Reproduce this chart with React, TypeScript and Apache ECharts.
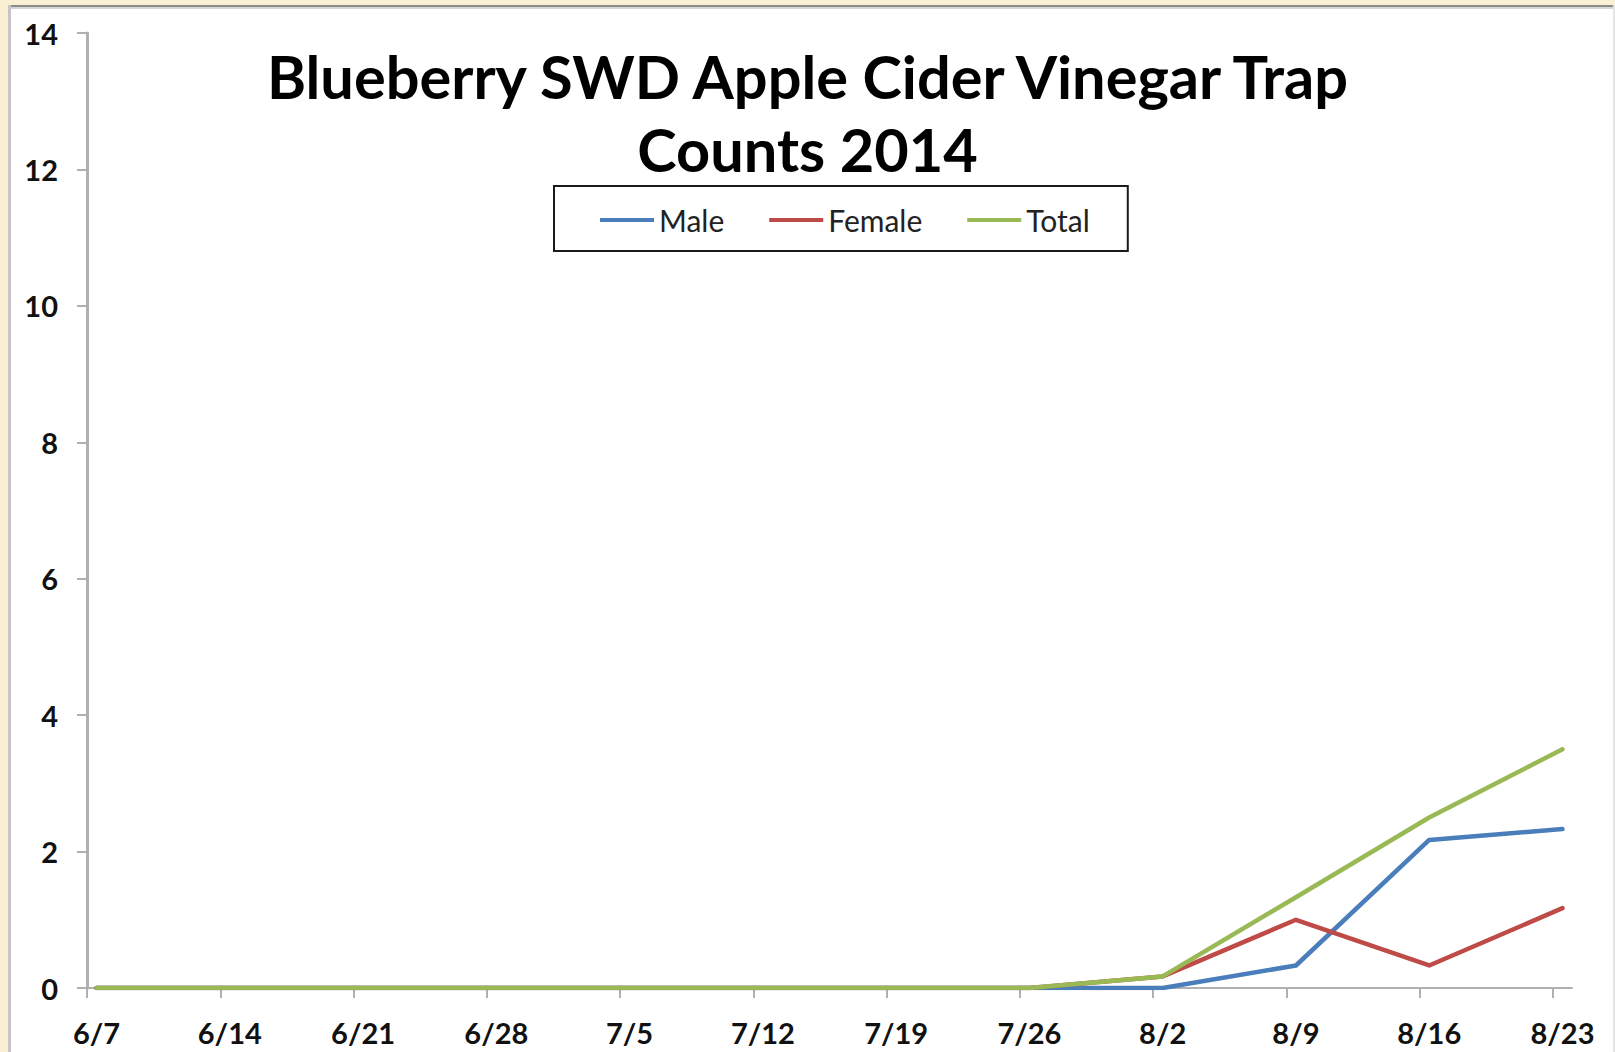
import React, { useEffect, useRef } from "react";
import * as echarts from "echarts";

const dates = ["6/7", "6/14", "6/21", "6/28", "7/5", "7/12", "7/19", "7/26", "8/2", "8/9", "8/16", "8/23"];
const male = [0, 0, 0, 0, 0, 0, 0, 0, 0, 0.33, 2.17, 2.33];
const female = [0, 0, 0, 0, 0, 0, 0, 0, 0.17, 1.0, 0.33, 1.17];
const total = [0, 0, 0, 0, 0, 0, 0, 0, 0.17, 1.33, 2.5, 3.5];
const yTicks = [0, 2, 4, 6, 8, 10, 12, 14];

const W = 1615;
const H = 1052;

export default function App() {
  const ref = useRef<HTMLDivElement>(null);
  useEffect(() => {
    if (!ref.current) return;
    const chart = echarts.init(ref.current, null, { renderer: "svg", width: W, height: H });
    const days = dates.map((_, i) => i * 7);
    const tickDays = days.map((d) => d - 0.5);
    const toPairs = (arr: number[]) => arr.map((v, i) => [days[i], v]);
    const labelStyle = { fontFamily: "Lato", fontWeight: "bold" as const, fontSize: 29, color: "#111" };
    const axisGray = "#b0b0b0";
    chart.setOption({
      animation: false,
      backgroundColor: "transparent",
      textStyle: { fontFamily: "Lato" },
      graphic: [
        { type: "rect", z: -10, silent: true, shape: { x: 8, y: 5, width: W - 8, height: H }, style: { fill: "#ffffff" } },
        { type: "line", z: -9, silent: true, shape: { x1: 8, y1: 6, x2: W, y2: 6 }, style: { stroke: "#8c8c8c", lineWidth: 2 } },
        { type: "line", z: -9, silent: true, shape: { x1: 8, y1: 8, x2: W, y2: 8 }, style: { stroke: "#d6d6d6", lineWidth: 2 } },
        { type: "line", z: -9, silent: true, shape: { x1: 9.5, y1: 5, x2: 9.5, y2: H }, style: { stroke: "#c6c6c6", lineWidth: 3 } },
        { type: "line", z: -9, silent: true, shape: { x1: 1614, y1: 5, x2: 1614, y2: H }, style: { stroke: "#e4e4e4", lineWidth: 2 } },
      ],
      title: {
        text: "Blueberry SWD Apple Cider Vinegar Trap\nCounts 2014",
        left: "center",
        top: 39,
        padding: [0, 0, 0, 26],
        textStyle: { fontFamily: "Lato", fontWeight: "bold", fontSize: 59.5, lineHeight: 73, color: "#000" },
      },
      legend: {
        left: 554,
        top: 186,
        padding: [19, 38, 16, 46],
        borderColor: "#1a1a1a",
        borderWidth: 2,
        itemWidth: 54,
        itemHeight: 4,
        itemGap: 45,
        icon: "rect",
        textStyle: { fontFamily: "Lato", fontSize: 30, color: "#222" },
        data: ["Male", "Female", "Total"],
      },
      grid: { left: 87, right: 43, top: 33, bottom: 64 },
      xAxis: {
        type: "value",
        min: -0.5,
        max: 77.5,
        axisLine: { show: true, onZero: false, lineStyle: { color: axisGray, width: 2 } },
        axisTick: { show: true, customValues: tickDays, length: 10, lineStyle: { color: axisGray, width: 2 } },
        axisLabel: {
          show: true,
          customValues: days,
          margin: 30,
          formatter: (v: number) => dates[Math.round(v / 7)] ?? "",
          ...labelStyle,
        },
        splitLine: { show: false },
      },
      yAxis: {
        type: "value",
        min: yTicks[0],
        max: yTicks[yTicks.length - 1],
        interval: 2,
        axisLine: { show: true, onZero: false, lineStyle: { color: axisGray, width: 3 } },
        axisTick: { show: true, length: 10, lineStyle: { color: axisGray, width: 2 } },
        axisLabel: { margin: 29, ...labelStyle },
        splitLine: { show: false },
      },
      series: [
        { name: "Male", type: "line", data: toPairs(male), showSymbol: false, color: "#4a7ebb", lineStyle: { width: 4.5, color: "#4a7ebb", join: "round", cap: "round" } },
        { name: "Female", type: "line", data: toPairs(female), showSymbol: false, color: "#be4b48", lineStyle: { width: 4.5, color: "#be4b48", join: "round", cap: "round" } },
        { name: "Total", type: "line", data: toPairs(total), showSymbol: false, color: "#98b954", lineStyle: { width: 4.5, color: "#98b954", join: "round", cap: "round" } },
      ],
    });
    return () => chart.dispose();
  }, []);
  return (
    <div style={{ position: "fixed", left: 0, top: 0, width: W, height: H, background: "#fcf0d4", overflow: "hidden" }}>
      <div ref={ref} style={{ width: W, height: H }} />
    </div>
  );
}
